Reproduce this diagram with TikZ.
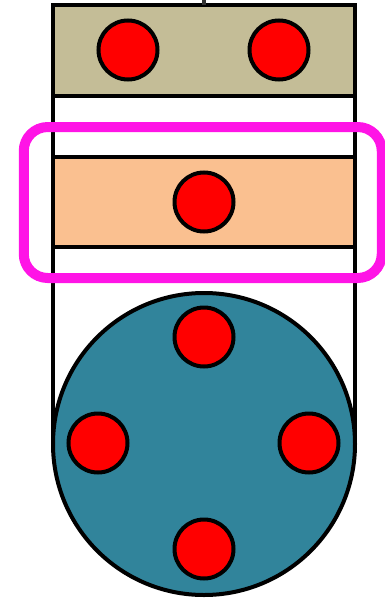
\documentclass[tikz,border=0pt]{standalone}
\definecolor{tan}{HTML}{C4BD97}
\definecolor{peach}{HTML}{FAC090}
\definecolor{teal}{HTML}{31849B}
\definecolor{mag}{HTML}{FF14E6}
\begin{document}
\begin{tikzpicture}[x=1pt,y=-1pt,
  blk/.style={draw=black,line width=4pt,rectangle,inner sep=0pt,outer sep=0pt,minimum width=302pt},
  dot/.style={draw=black,line width=4pt,circle,fill=red,minimum size=59pt,inner sep=0pt},
  wire/.style={draw=black,line width=4pt}]
\useasboundingbox (0,0) rectangle (385,599);
\coordinate (stub) at (204,0);
\coordinate (lb) at (53,444);
\coordinate (rb) at (355,444);
\node[blk,fill=tan,minimum height=91pt] (top) at (204,50.5) {};
\draw[wire,draw=black!80] (stub) -- (top.north);
\draw[wire] (top.south west) -- (lb);
\draw[wire] (top.south east) -- (rb);
\node[blk,fill=peach,minimum height=90pt] (mid) at (204,202) {};
\node[draw=mag,line width=10pt,rounded corners=24pt,minimum width=358pt,minimum height=151pt,inner sep=0pt] (sel) at (202.75,202.5) {};
\node[draw=black,line width=4pt,circle,fill=teal,minimum size=302pt,inner sep=0pt] (disk) at (204,444) {};
\node[dot] (t1) at (128,50) {};
\node[dot] (t2) at (279,50) {};
\node[dot] (m1) at (204,202) {};
\node[dot] (d1) at (204,337) {};
\node[dot] (d2) at (98,443) {};
\node[dot] (d3) at (309,443) {};
\node[dot] (d4) at (204,549) {};
\end{tikzpicture}
\end{document}
